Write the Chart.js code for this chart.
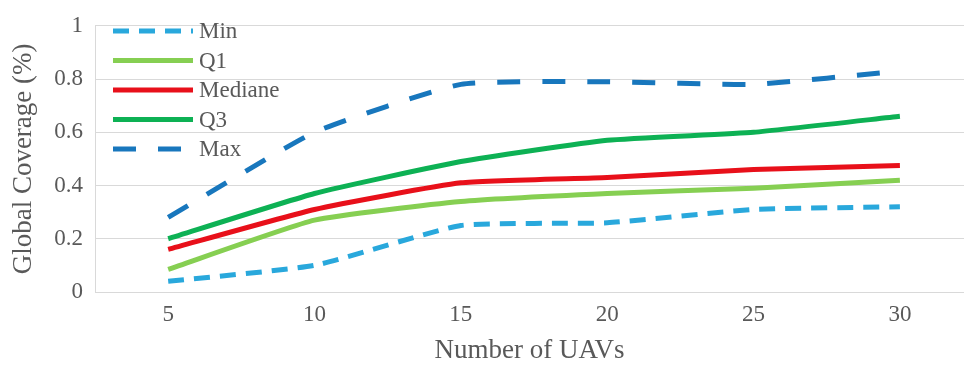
<!DOCTYPE html>
<html>
<head>
<meta charset="utf-8">
<script src="https://cdn.jsdelivr.net/npm/chart.js@4"></script>
<style>
  html, body { margin: 0; padding: 0; background: #fff; }
  #wrap { width: 964px; height: 367px; }
</style>
</head>
<body>
<div id="wrap"><canvas id="chart" width="964" height="367"></canvas></div>
<script>
const uavs = [5, 10, 15, 20, 25, 30];
const minVals = [0.04, 0.10, 0.25, 0.26, 0.31, 0.32];
const q1Vals = [0.085, 0.27, 0.34, 0.37, 0.39, 0.42];
const medianVals = [0.16, 0.31, 0.41, 0.43, 0.46, 0.475];
const q3Vals = [0.20, 0.37, 0.49, 0.57, 0.60, 0.66];
const maxVals = [0.28, 0.60, 0.78, 0.79, 0.78, 0.83];
const yTicks = [0, 0.2, 0.4, 0.6, 0.8, 1];

const grey = '#595959';
const serif = "'Liberation Serif', 'Times New Roman', serif";

function series(label, vals, color, width, dash) {
  return {
    label: label,
    data: uavs.map((x, i) => ({ x: x, y: vals[i] })),
    borderColor: color,
    backgroundColor: color,
    borderWidth: width,
    borderDash: dash,
    pointRadius: 0,
    tension: 0.15,
    fill: false
  };
}

// legend drawn by hand so the dashed samples show up like the original
const insideLegend = {
  id: 'insideLegend',
  afterDraw(chart) {
    const ctx = chart.ctx;
    const left = chart.chartArea.left + 18;
    ctx.save();
    ctx.font = '23px ' + serif;
    ctx.textBaseline = 'middle';
    chart.data.datasets.forEach((ds, i) => {
      const y = 31 + i * 29.5;
      ctx.strokeStyle = ds.borderColor;
      ctx.lineWidth = ds.borderWidth;
      ctx.setLineDash(ds.borderDash || []);
      ctx.beginPath();
      ctx.moveTo(left, y);
      ctx.lineTo(left + 80, y);
      ctx.stroke();
      ctx.setLineDash([]);
      ctx.fillStyle = grey;
      ctx.fillText(ds.label, left + 86, y + 1);
    });
    ctx.restore();
  }
};

new Chart(document.getElementById('chart'), {
  type: 'line',
  data: {
    datasets: [
      series('Min', minVals, '#29a8dc', 5, [16, 10]),
      series('Q1', q1Vals, '#86cf52', 5, []),
      series('Mediane', medianVals, '#e8101a', 5, []),
      series('Q3', q3Vals, '#0db154', 5, []),
      series('Max', maxVals, '#1877bd', 5, [23, 22])
    ]
  },
  plugins: [insideLegend],
  options: {
    responsive: false,
    animation: false,
    layout: { padding: { top: 17, right: 0, left: 0, bottom: 0 } },
    plugins: {
      tooltip: { enabled: false },
      legend: { display: false }
    },
    scales: {
      x: {
        type: 'linear',
        min: 2.5,
        max: 32.19,
        afterBuildTicks: (axis) => { axis.ticks = uavs.map(v => ({ value: v })); },
        afterFit: (axis) => { axis.height = 75; },
        grid: { display: false },
        border: { display: true, color: '#d9d9d9', width: 1 },
        ticks: { color: grey, font: { family: serif, size: 23 }, padding: 1, maxRotation: 0 },
        title: {
          display: true,
          text: 'Number of UAVs',
          color: grey,
          font: { family: serif, size: 27 },
          padding: { top: 0, bottom: 0 }
        }
      },
      y: {
        min: 0,
        max: 1,
        afterBuildTicks: (axis) => { axis.ticks = yTicks.map(v => ({ value: v })); },
        afterFit: (axis) => { axis.width = 95; },
        grid: { color: '#d9d9d9', lineWidth: 1, drawTicks: false },
        border: { display: true, color: '#d9d9d9', width: 1 },
        ticks: {
          color: grey,
          font: { family: serif, size: 23 },
          padding: 12,
          callback: (v) => String(v)
        },
        title: {
          display: true,
          text: 'Global Coverage (%)',
          color: grey,
          font: { family: serif, size: 27 },
          padding: { top: 8, bottom: 0 }
        }
      }
    }
  }
});
</script>
</body>
</html>
